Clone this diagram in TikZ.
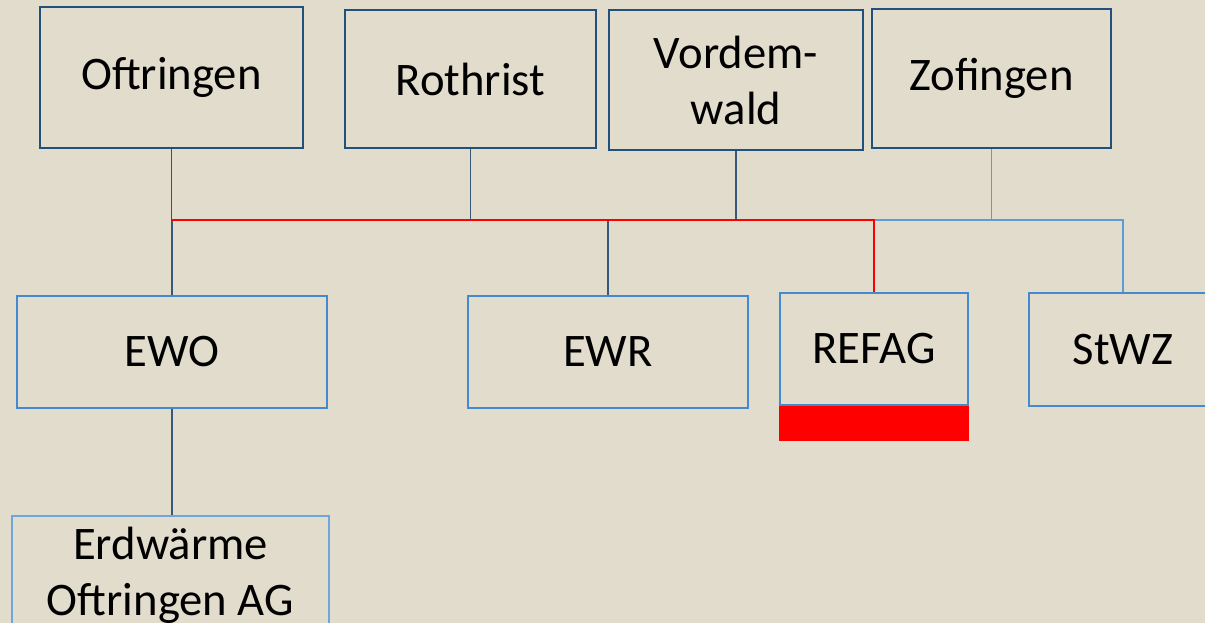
\documentclass[tikz,border=0pt]{standalone}
\usepackage{fontspec}
\setmainfont{Carlito}
\definecolor{paper}{RGB}{226,220,205}
\definecolor{topblue}{RGB}{33,80,125}
\definecolor{subblue}{RGB}{68,138,207}
\definecolor{paleblue}{RGB}{110,165,220}
\definecolor{linkgray}{RGB}{55,88,122}
\definecolor{linkblue}{RGB}{95,155,212}
\begin{document}
\begin{tikzpicture}[x=0.75pt,y=-0.75pt,
  every node/.style={font=\fontsize{35}{42}\selectfont, align=center, inner sep=0pt},
  org/.style 2 args={draw, minimum width=#1*0.75pt, minimum height=#2*0.75pt},
  topbox/.style={draw=topblue, line width=2.1pt},
  subbox/.style={draw=subblue, line width=1.6pt},
  link/.style={draw=linkgray, line width=0.8pt},
  redlink/.style={draw=red, line width=1pt},
  bluelink/.style={draw=linkblue, line width=0.9pt}]

\fill[paper] (0,0) rectangle (1205,623);
\useasboundingbox (0,0) rectangle (1205,623);

% Gemeinden
\node[org={263}{141}, topbox] (oft) at (171.5,77.5) {\raisebox{-3pt}{Oftringen}};
\node[org={251}{138}, topbox] (roth) at (470.5,79) {Rothrist};
\node[org={254}{140}, topbox] (vord) at (736,80) {Vordem-\\wald};
\node[org={239}{139}, topbox] (zof) at (991.5,78.5) {\raisebox{-3pt}{Zofingen}};

% Werke
\node[org={310}{112}, subbox] (ewo) at (172,352) {EWO};
\node[org={280}{112}, subbox] (ewr) at (608,352) {EWR};
\node[org={188}{112}, subbox] (refag) at (874,349) {REFAG};
\node[fill=red, minimum width=190*0.75pt, minimum height=35*0.75pt, anchor=north] (refagbar) at (refag.south) {};
\node[org={188}{113}, subbox] (stwz) at (1123,349.5) {StWZ};
\node[org={317}{118}, draw=paleblue, line width=1.5pt] (erd) at (170.5,575) {Erdwärme\\Oftringen AG};

\coordinate (bus) at (0,220);

% Beteiligungen
\draw[link] (ewo.north) -- (ewo.north |- bus);
\draw[link] (roth.south) |- (vord.south |- bus) -- (vord.south);
\draw[link] (ewr.north) -- (ewr.north |- bus);
\draw[link] (ewo.south) -- (ewo.south |- erd.north);
\draw[bluelink] (zof.south) -- (zof.south |- bus);
\draw[bluelink] (refag.north |- bus) -| (stwz.north);
\draw[redlink] (oft.south) -- (oft.south |- bus) -| (refag.north);

\end{tikzpicture}
\end{document}
